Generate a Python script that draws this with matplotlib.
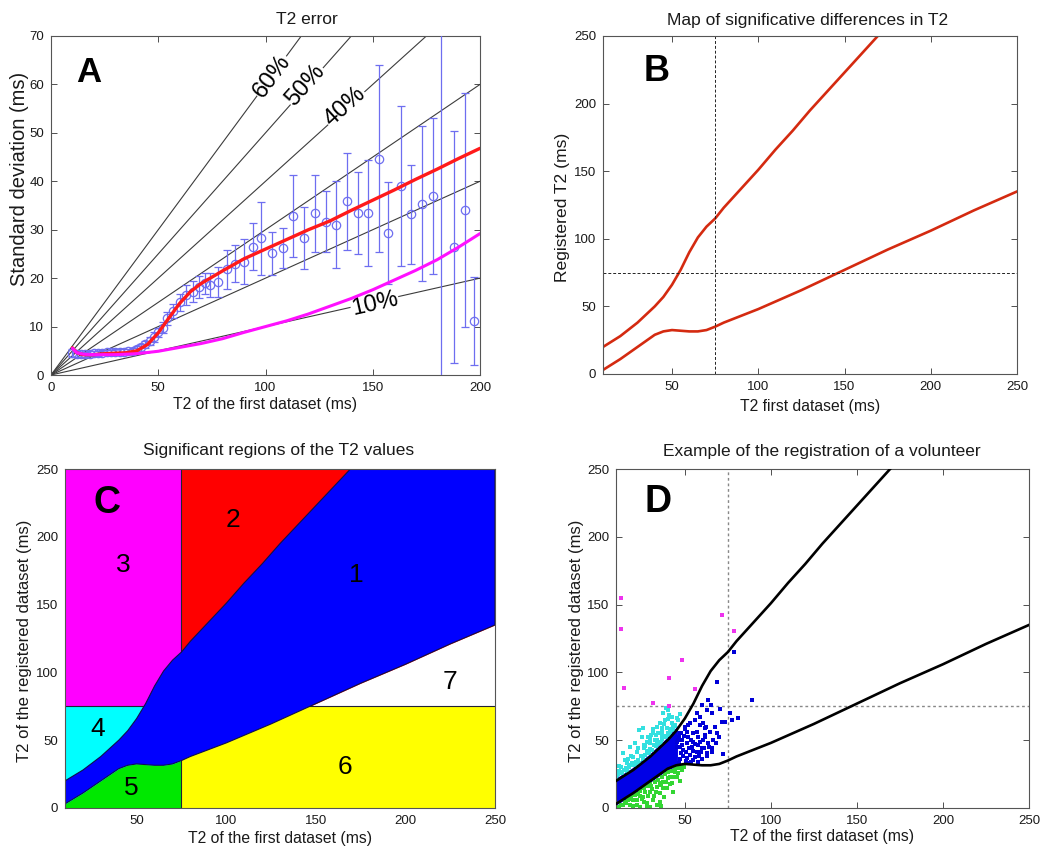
import numpy as np
import matplotlib
matplotlib.use('Agg')
import matplotlib.pyplot as plt
from matplotlib.patches import Rectangle

plt.rcParams['font.family'] = ['Liberation Sans', 'DejaVu Sans']

# ---------------- Panel A data ----------------
a_x = [10, 12, 14, 16, 18, 20, 22, 24, 26, 28,
       30, 32, 34, 36, 38, 40, 42, 44, 46, 48,
       50, 52, 54, 57, 60, 63, 66, 69, 72, 74,
       78, 82, 86, 90, 94, 98, 103, 108, 113, 118,
       123, 128, 133, 138, 143, 148, 153, 157, 163, 168,
       173, 178, 182, 188, 193, 197]
a_mean = [4.6, 4.3, 4.3, 4.3, 4.4, 4.5, 4.5, 4.6, 4.7, 4.7,
          4.8, 4.8, 4.8, 4.9, 5.0, 5.3, 5.7, 6.3, 7.0, 7.8,
          8.8, 9.8, 11.7, 13.2, 15.0, 16.5, 17.2, 18.2, 18.9, 18.6,
          19.3, 21.8, 23.0, 23.4, 26.5, 28.2, 25.1, 26.2, 32.9, 28.2,
          33.4, 31.6, 31.0, 35.9, 33.5, 33.4, 44.7, 29.3, 39.0, 33.2,
          35.4, 36.9, 80.0, 26.4, 34.1, 11.2]
a_err = [0.8, 0.6, 0.5, 0.5, 0.5, 0.5, 0.5, 0.5, 0.5, 0.5,
         0.5, 0.5, 0.5, 0.5, 0.6, 0.6, 0.7, 0.8, 0.9, 1.0,
         1.0, 1.2, 1.3, 1.5, 1.8, 2.0, 2.2, 2.3, 2.2, 2.5,
         3.1, 4.1, 3.75, 4.7, 4.8, 7.6, 4.5, 4.2, 8.5, 6.4,
         7.9, 6.3, 9.0, 10.0, 8.5, 10.9, 19.3, 10.6, 16.5, 10.2,
         16.0, 16.1, 82.0, 23.9, 24.1, 9.1]

red_x = [10, 12, 15, 20, 25, 30, 35, 40, 45, 50, 55, 60, 65, 70, 75, 80,
         90, 100, 110, 120, 130, 140, 150, 160, 170, 180, 190, 200]
red_y = [5.6, 4.6, 4.2, 4.2, 4.4, 4.5, 4.6, 5.0, 6.3, 8.7, 11.8, 14.8, 17.2,
         18.9, 20.2, 21.5, 24.0, 26.0, 28.0, 30.0, 31.8, 34.0, 36.1, 38.2,
         40.4, 42.5, 44.7, 46.8]

mag_x = [10, 12, 15, 20, 30, 40, 50, 60, 70, 80, 90, 100, 110, 120, 130,
         140, 150, 160, 170, 180, 190, 200]
mag_y = [5.5, 4.6, 4.3, 4.2, 4.2, 4.4, 4.9, 5.7, 6.5, 7.5, 8.8, 10.0, 11.2,
         12.6, 14.2, 15.8, 17.6, 19.6, 21.6, 23.8, 26.4, 29.2]

pct_levels = [10, 20, 30, 40, 50, 60]

# ---------------- Panels B/C/D data ----------------
up_x = [10, 15, 20, 25, 30, 35, 40, 45, 50, 55, 60, 65, 70, 75, 80, 90,
        100, 110, 120, 130, 140, 150, 160, 170]
up_y = [20, 24, 28, 33, 38, 44, 50, 57, 66, 77, 90, 101, 109, 115, 123, 137,
        151, 166, 180, 195, 209, 223, 237, 251]
low_x = [10, 15, 20, 25, 30, 35, 40, 45, 50, 55, 60, 65, 70, 75, 80, 90,
         100, 125, 150, 175, 200, 225, 250]
low_y = [3, 7, 11, 15.5, 20, 24.5, 29, 31.5, 32.5, 32, 31.5, 31.5, 32.5, 35,
         38, 43, 48, 62, 77, 92, 106, 121, 135]
threshold = 75

region_names = ['1', '2', '3', '4', '5', '6', '7']

# Panel D scatter (volunteer voxels)
cyan_x = [10.5, 11.5, 12.3, 13.0, 14.3, 15.2, 16.2, 17.0, 18.1, 19.0,
          20.1, 21.0, 22.0, 23.0, 23.5, 24.9, 25.9, 26.5, 27.8, 28.5,
          29.8, 30.5, 31.7, 32.5, 33.6, 34.6, 35.6, 36.5, 37.5, 38.5,
          39.0, 39.4, 39.5, 40.4, 41.0, 41.4, 42.3, 43.3, 44.3, 45.2,
          46.2, 47.2, 21.5, 26.0, 30.0, 34.0, 37.0, 44.0, 12.0, 16.0,
          10.2, 11.0, 13.5, 14.8, 16.5, 17.5, 18.5, 19.5, 21.0, 22.5,
          23.5, 24.5, 25.5, 27.0, 28.0, 29.0, 31.0, 32.0, 33.0, 34.0,
          35.0, 36.0, 37.0, 38.0, 39.0, 40.0, 41.0, 42.0, 43.0, 36.5,
          33.0, 29.5, 27.0, 31.5, 38.0, 42.5, 40.0]
cyan_y = [24.0, 27.5, 26.8, 30.0, 40.3, 35.4, 33.0, 36.5, 45.2, 38.5,
          37.9, 47.7, 41.0, 44.0, 57.5, 52.6, 58.8, 46.5, 48.9, 52.0,
          47.7, 54.0, 55.1, 50.5, 50.1, 55.1, 62.4, 56.3, 69.8, 64.9,
          73.5, 58.8, 74.0, 72.3, 68.6, 56.3, 67.4, 60.0, 60.5, 66.1,
          65.0, 69.0, 34.0, 44.0, 43.5, 60.0, 53.5, 61.0, 31.0, 29.5,
          22.5, 25.0, 25.5, 28.0, 27.5, 30.5, 31.5, 33.0, 31.5, 35.5,
          33.5, 38.0, 36.5, 39.0, 42.0, 40.5, 43.0, 46.5, 45.5, 47.5,
          49.0, 48.0, 51.0, 53.0, 52.5, 55.0, 54.0, 58.0, 57.5, 59.0,
          53.5, 51.0, 45.5, 58.5, 62.0, 63.0, 66.0]
green_x = [12.0, 14.3, 16.0, 18.1, 20.1, 22.0, 23.9, 25.9, 27.8, 29.8,
           29.8, 31.7, 33.6, 35.6, 35.6, 37.5, 39.4, 41.4, 42.3, 44.3,
           45.2, 46.2, 48.2, 20.0, 24.0, 27.0, 32.0, 36.0, 40.0, 38.0,
           43.0, 47.0, 30.5, 34.0, 26.0, 17.0,
           13.0, 15.5, 17.5, 19.0, 21.0, 22.5, 24.0, 25.0, 26.5, 28.0,
           28.5, 30.0, 31.0, 32.5, 33.5, 34.5, 35.5, 36.5, 37.5, 38.5,
           39.0, 40.5, 41.5, 42.5, 43.5, 44.5, 46.0, 48.0, 49.5, 22.0,
           28.0, 36.0]
green_y = [1.0, 2.5, 4.0, 2.2, 6.0, 5.9, 1.0, 8.4, 3.5, 12.1,
           1.0, 5.9, 15.7, 10.8, 4.7, 19.4, 14.5, 23.1, 18.2, 26.8,
           23.1, 29.3, 28.0, 1.5, 9.0, 12.0, 9.0, 17.0, 22.0, 8.0,
           12.0, 20.0, 16.0, 2.5, 4.5, 6.0,
           2.0, 4.5, 7.0, 8.0, 9.5, 10.5, 12.5, 6.5, 14.5, 16.5,
           9.0, 17.5, 14.0, 19.5, 11.5, 21.0, 18.5, 22.5, 14.5, 25.0,
           19.0, 26.5, 17.5, 27.5, 22.5, 29.0, 25.5, 31.0, 30.0, 2.5,
           1.5, 1.5]
blue_x = [47.2, 50.1, 53.0, 55.9, 58.8, 61.7, 64.6, 67.5, 54.9, 57.8,
          60.7, 63.7, 59.8, 56.9, 54.0, 51.1, 49.1, 53.0, 55.9, 62.7,
          65.6, 52.0, 54.9, 57.8, 61.7, 51.1, 48.2, 45.2, 66.6, 68.5,
          56.9, 58.8, 78.7, 68.5, 89.2, 63.6, 65.0, 70.4, 76.2, 81.1,
          71.4, 73.4, 77.3, 59.8, 62.7, 65.6, 47.0, 49.0, 50.5, 46.0,
          46.5, 47.5, 48.5, 49.5, 50.5, 51.5, 52.5, 53.5, 54.5, 55.0,
          56.0, 57.0, 58.0, 59.0, 60.0, 61.0, 62.0, 63.0, 64.0, 50.0,
          52.0, 48.0, 46.5, 45.5, 47.0, 51.0, 53.5, 57.5, 59.5, 60.5,
          62.5, 66.0, 68.0, 70.0, 72.0]
blue_y = [55.1, 60.0, 62.4, 64.9, 61.2, 58.8, 56.3, 60.0, 55.1, 52.6,
          50.1, 47.7, 44.0, 41.5, 45.2, 47.7, 42.8, 39.1, 37.9, 40.3,
          41.5, 52.6, 48.9, 46.5, 53.8, 56.3, 50.1, 45.2, 50.1, 55.1,
          69.8, 67.4, 115.3, 93.2, 79.6, 79.6, 76.3, 73.3, 69.8, 66.7,
          63.5, 63.5, 65.0, 76.0, 72.3, 69.8, 36.0, 38.0, 35.0, 50.0,
          33.5, 40.5, 46.5, 53.0, 41.0, 37.0, 44.5, 50.5, 35.5, 42.0,
          47.5, 56.0, 38.5, 49.0, 36.5, 44.5, 52.5, 38.0, 45.0, 58.5,
          61.0, 55.5, 52.0, 49.0, 45.0, 33.5, 34.0, 34.0, 41.0, 62.5,
          60.0, 44.0, 48.0, 52.0, 40.0]
magpt_x = [12.9, 12.9, 14.8, 31.7, 40.8, 48.5, 55.9, 71.4, 78.7, 40.7]
magpt_y = [154.6, 132.0, 88.3, 77.6, 95.6, 109.0, 87.5, 142.3, 130.7, 75.5]

# ---------------- figure ----------------
W, H = 1062, 851
fig = plt.figure(figsize=(W / 100, H / 100), dpi=100)


def px_axes(l, t, r, b):
    return fig.add_axes([l / W, 1 - b / H, (r - l) / W, (b - t) / H])


axA = px_axes(51, 36, 480, 375)
axB = px_axes(603, 36, 1017, 374)
axC = px_axes(65, 469, 495, 808)
axD = px_axes(616, 469, 1029, 808)

TXT = '#1a1a1a'


def style(ax, ticklen=4):
    ax.tick_params(direction='in', top=True, right=True, length=ticklen,
                   width=0.6, labelsize=9.5, colors='#333333',
                   labelcolor=TXT, pad=5)
    for s in ax.spines.values():
        s.set_color('#555555')
        s.set_linewidth(0.8)


def ftext(x, y, s, **kw):
    fig.text(x / W, 1 - y / H, s, ha='center', va='center', color=TXT, **kw)


# ---- Panel A ----
for p in pct_levels:
    axA.axline((0, 0), slope=p / 100, color='#3c3c3c', lw=0.8, zorder=1.5)
err_c = '#6e6ef0'
axA.errorbar(a_x, a_mean, yerr=a_err, fmt='o', mfc='none', mec=err_c,
             ecolor=err_c, ms=6, mew=0.9, capsize=3.2, elinewidth=0.9,
             capthick=0.9, zorder=3)
axA.plot(red_x, red_y, color='#ff1a1a', lw=2.4, zorder=4, solid_capstyle='round')
axA.plot(mag_x, mag_y, color='#ff10ff', lw=2.2, zorder=5, solid_capstyle='round')
axA.set_xlim(0, 200)
axA.set_ylim(0, 70)
axA.set_xticks([0, 50, 100, 150, 200])
axA.set_yticks(range(0, 71, 10))
style(axA)
lbl_kw = dict(fontsize=17, ha='center', va='center', rotation_mode='anchor',
              transform_rotates_text=True, color='black', zorder=2.5,
              bbox=dict(facecolor='white', edgecolor='none', pad=0.5))
for s, x, y, p in [('60%', 103, 61.7, 60), ('50%', 118.5, 59.9, 50),
                   ('40%', 137, 55.4, 40), ('10%', 151, 14.6, 10)]:
    axA.text(x, y, s, rotation=np.degrees(np.arctan(p / 100)), **lbl_kw)
axA.text(17.8, 62.4, 'A', fontsize=25, fontweight='bold', ha='center',
         va='center', color='black')
ftext(307, 19, 'T2 error', fontsize=12.5)
ftext(265, 405, 'T2 of the first dataset (ms)', fontsize=11.3)
ftext(20, 179, 'Standard deviation (ms)', fontsize=14.5, rotation=90)

# ---- Panel B ----
axB.plot(up_x, up_y, color='#d42a10', lw=1.9)
axB.plot(low_x, low_y, color='#d42a10', lw=1.9)
axB.axvline(threshold, color='#222222', lw=0.7, ls=(0, (3, 2)))
axB.axhline(threshold, color='#222222', lw=0.7, ls=(0, (3, 2)))
axB.set_xlim(10, 250)
axB.set_ylim(0, 250)
axB.set_xticks([50, 100, 150, 200, 250])
axB.set_yticks([0, 50, 100, 150, 200, 250])
style(axB)
axB.text(41, 223.6, 'B', fontsize=26, fontweight='bold', ha='center',
         va='center', color='black')
ftext(808, 20, 'Map of significative differences in T2', fontsize=12.5)
ftext(810, 406, 'T2 first dataset (ms)', fontsize=11.3)
ftext(563, 207, 'Registered T2 (ms)', fontsize=12.6, rotation=90)

# ---- Panel C ----
xmin, xmax, ymax = 10, 250, 250
edge = '#222233'
axC.add_patch(Rectangle((xmin, threshold), threshold - xmin, ymax - threshold,
                        facecolor='#ff00ff', edgecolor='none', zorder=1))
axC.add_patch(Rectangle((threshold, threshold), xmax - threshold, ymax - threshold,
                        facecolor='#ff0000', edgecolor='none', zorder=1))
axC.add_patch(Rectangle((xmin, 0), threshold - xmin, threshold,
                        facecolor='#00ffff', edgecolor='none', zorder=1))
axC.add_patch(Rectangle((threshold, 0), xmax - threshold, threshold,
                        facecolor='#ffff00', edgecolor='none', zorder=1))
lx = np.array(low_x, dtype=float)
ly = np.array(low_y, dtype=float)
m = lx <= threshold
axC.fill_between(lx[m], 0, ly[m], color='#00e800', lw=0, zorder=1.2)
axC.fill_between(lx, threshold, ly, where=ly >= threshold, interpolate=True,
                 color='white', lw=0, zorder=1.2)
axC.plot([threshold, threshold], [0, ymax], color=edge, lw=0.8, zorder=1.4)
axC.plot([xmin, xmax], [threshold, threshold], color=edge, lw=0.8, zorder=1.4)
poly_x = list(up_x) + [xmax] + list(low_x)[::-1]
poly_y = list(up_y) + [ymax] + list(low_y)[::-1]
axC.fill(poly_x, poly_y, facecolor='#0000ff', edgecolor='#10104a', lw=0.8,
         zorder=2)
axC.set_xlim(xmin, xmax)
axC.set_ylim(0, ymax)
axC.set_xticks([50, 100, 150, 200, 250])
axC.set_yticks([0, 50, 100, 150, 200, 250])
style(axC, ticklen=0)
axC.set_axisbelow(True)
for name, x, y in zip(region_names,
                      [172.8, 103.9, 42.5, 28.0, 47.2, 166.3, 224.8],
                      [171.8, 212.4, 179.2, 58.0, 14.5, 30.5, 93.1]):
    axC.text(x, y, name, fontsize=19, ha='center', va='center',
             color='black', zorder=5)
axC.text(33.3, 224.7, 'C', fontsize=27, fontweight='bold', ha='center',
         va='center', color='black', zorder=5)
ftext(279, 451, 'Significant regions of the T2 values', fontsize=12.5)
ftext(280, 838, 'T2 of the first dataset (ms)', fontsize=11.3)
ftext(25, 641, 'T2 of the registered dataset (ms)', fontsize=12, rotation=90)

# ---- Panel D ----
ux = np.array(up_x, dtype=float)
uy = np.array(up_y, dtype=float)
cut = 45
dense_x = list(ux[ux <= cut]) + list(lx[lx <= cut])[::-1]
dense_y = list(uy[ux <= cut]) + list(ly[lx <= cut])[::-1]
axD.fill(dense_x, dense_y, facecolor='#0000e6', edgecolor='#0000e6', lw=2.5,
         zorder=2)
mk = dict(ls='none', marker='s', ms=2.8, mew=0, zorder=2)
axD.plot(cyan_x, cyan_y, color='#33e0e0', **mk)
axD.plot(green_x, green_y, color='#33d633', **mk)
axD.plot(blue_x, blue_y, color='#0000d8', **mk)
axD.plot(magpt_x, magpt_y, color='#ee33ee', **mk)
axD.plot(up_x, up_y, color='black', lw=1.9, zorder=3)
axD.plot(low_x, low_y, color='black', lw=1.9, zorder=3)
axD.axvline(threshold, color='#888888', lw=1.0, ls=(0, (2, 2)), zorder=1)
axD.axhline(threshold, color='#888888', lw=1.0, ls=(0, (2, 2)), zorder=1)
axD.set_xlim(10, 250)
axD.set_ylim(0, 250)
axD.set_xticks([50, 100, 150, 200, 250])
axD.set_yticks([0, 50, 100, 150, 200, 250])
style(axD)
axD.text(34.6, 225.9, 'D', fontsize=27, fontweight='bold', ha='center',
         va='center', color='black')
ftext(822, 452, 'Example of the registration of a volunteer', fontsize=12.5)
ftext(822, 837, 'T2 of the first dataset (ms)', fontsize=11.3)
ftext(577, 641, 'T2 of the registered dataset (ms)', fontsize=12, rotation=90)

fig.savefig('out.png', dpi=100)
